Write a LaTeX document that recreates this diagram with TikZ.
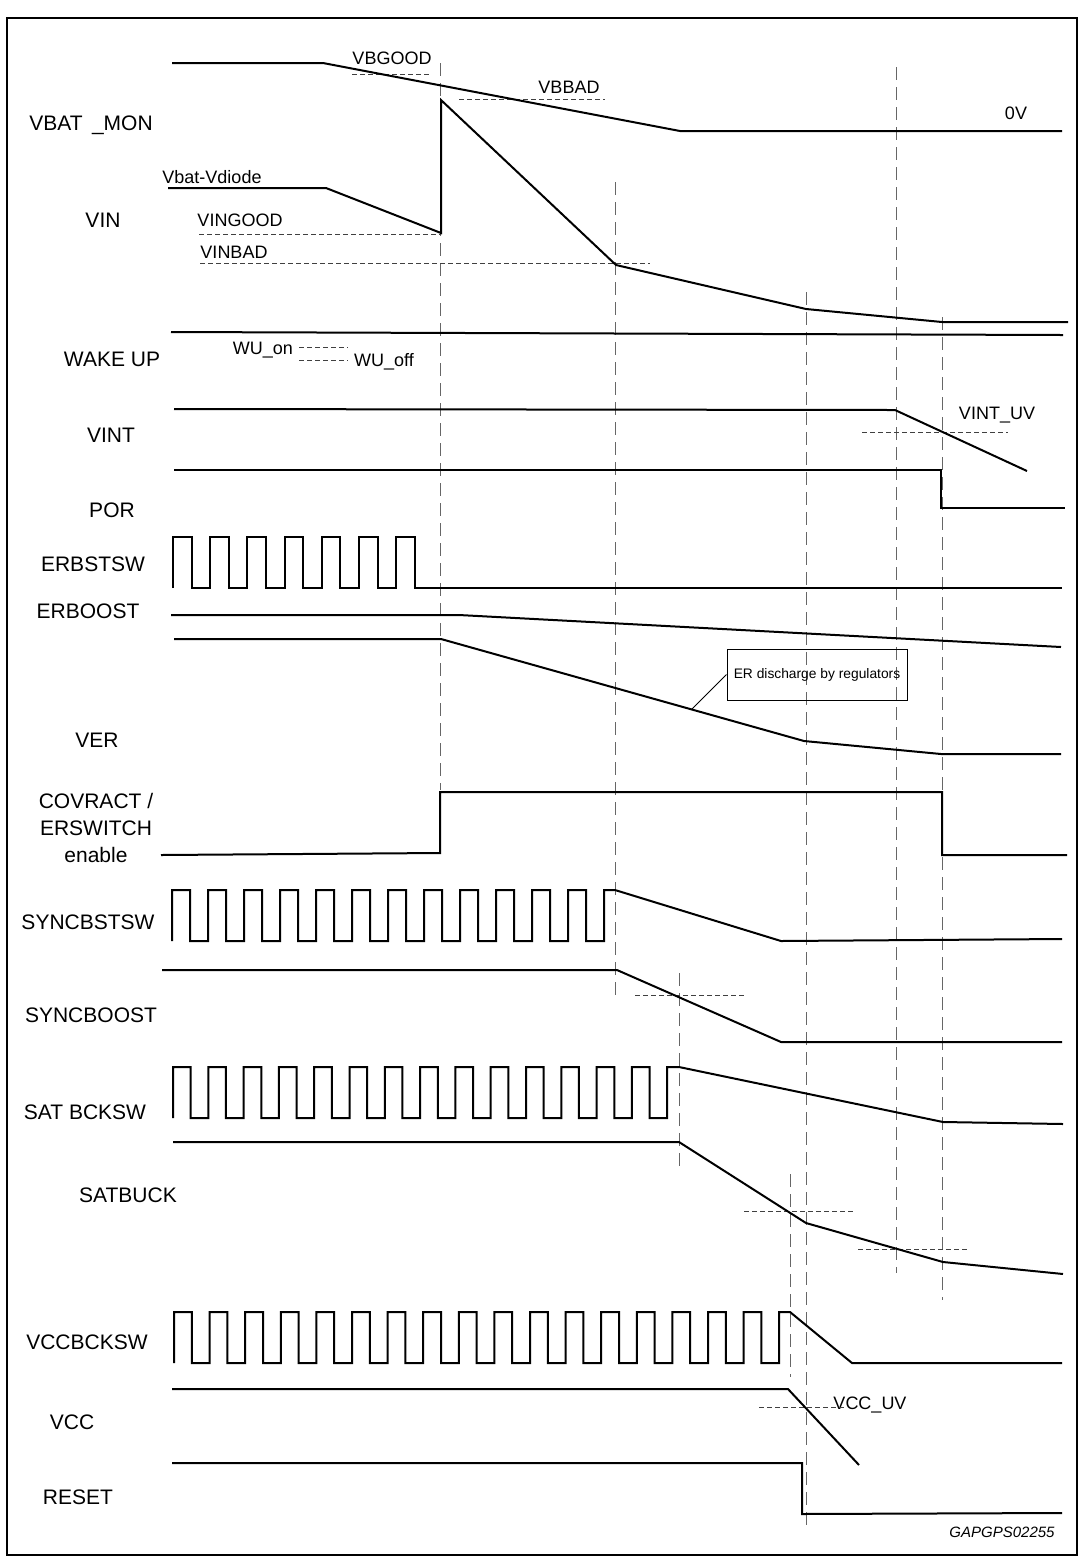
\documentclass[tikz,border=0pt]{standalone}
\usepackage{fontspec}
\setmainfont{Liberation Sans}
\usepackage{tikz}
\usetikzlibrary{arrows}

\begin{document}
\begin{tikzpicture}[x=0.5pt,y=-0.5pt]

	\tikzstyle signal lines=[line width=1pt, line join=miter];
	\tikzstyle time lines=[black!60, line width=0.5pt, dash pattern=on 6.5pt off 3.5pt];
	\tikzstyle level lines=[black!75, line width=0.45pt, dash pattern=on 2.5pt off 1.5pt];
	\tikzstyle signal names=[font=\fontsize{10.5}{13.5}\selectfont, align=center, inner sep=0pt];
	\tikzstyle level names=[font=\fontsize{9}{11}\selectfont, inner sep=0pt];

	\useasboundingbox (0,0) rectangle (1082,1560);
	\draw[line width=0.7pt] (7,18) rectangle (1077,1555);

	\foreach \n/\x/\y/\t in {svbat/91/125/VBAT\hspace{0.45em}\_MON, svin/103/220/VIN, swake/112/359/WAKE UP, svint/111/435/VINT, spor/112/510/POR,
		serbstsw/93/564/ERBSTSW, serboost/88/611/ERBOOST, sver/97/740/VER, ssyncbstsw/88/922/SYNCBSTSW, ssyncboost/91/1015/SYNCBOOST,
		ssatbcksw/85/1112/SAT BCKSW, ssatbuck/128/1195/SATBUCK, svccbcksw/87/1342/VCCBCKSW, svcc/72/1422/VCC, sreset/78/1497/RESET}
		\node[signal names] (\n) at (\x,\y) {\t};
	\node[signal names] (scovract) at (96,828) {COVRACT /\\ERSWITCH\\enable};

	\foreach \n/\x/\y/\t in {lvbgood/392/58/VBGOOD, lvbbad/569/87/VBBAD, lzero/1016/113/0V, lvdiode/212/177/Vbat-Vdiode,
		lvingood/240/220/VINGOOD, lvinbad/234/252/VINBAD, lwuon/263/350/WU\_on, lwuoff/384/362/WU\_off,
		lvintuv/997/415/VINT\_UV, lvccuv/870/1405/VCC\_UV}
		\node[level names] (\n) at (\x,\y) {\t};

	\foreach \x/\ya/\yb in {440/63/790, 615/182/997, 679/973/1166, 790/1174/1377, 806/292/1528, 896/67/1273, 942/317/1300}
		\draw[time lines] (\x,\ya) -- (\x,\yb);

	\foreach \xa/\xb/\y in {352/431/74, 459/605/99, 199/441/234, 200/650/263, 299/348/347, 299/348/360,
		862/1008/432, 635/745/995, 744/854/1211, 858/968/1249, 759/845/1407}
		\draw[level lines] (\xa,\y) -- (\xb,\y);

	% VBAT_MON, VIN, WAKE UP
	\draw[signal lines] (172,63) -- (323,63) -- (680,131) -- (1062,131);
	\draw[signal lines] (168,188) -- (326,188) -- (441,233) -- (441,100) -- (616,265) -- (806,309) -- (942,322) -- (1068,322);
	\draw[signal lines] (171,332) -- (1063,335);

	% VINT, POR
	\draw[signal lines] (174,409) -- (895,410) -- (1027,471);
	\draw[signal lines] (174,470) -- (941,470) -- (941,508) -- (1065,508);

	% ER boost
	\draw[signal lines] (173,588) \foreach \i in {0,...,6} {-- ++(0,-51) -- ++(18.6,0) -- ++(0,51) -- ++(18.6,0)} -- (1062,588);
	\draw[signal lines] (171,615) -- (459,615) -- (1061,647);
	\draw[signal lines] (174,639) -- (441,639) -- (804,741) -- (941,754) -- (1061,754);
	\coordinate (ver dis) at (692,709);
	\draw[signal lines] (161,855) -- (440,853) -- (440,792) -- (942,792) -- (942,855) -- (1067,855);

	\node[draw, line width=0.5pt, minimum width=90pt, minimum height=25.5pt, inner sep=1pt,
		font=\fontsize{6.9}{8}\selectfont] (erdis) at (817,674.5) {ER discharge by regulators};
	\draw[line width=0.4pt] (erdis.west) -- (ver dis);

	% sync boost
	\draw[signal lines] (172,941) \foreach \i in {0,...,11} {-- ++(0,-51) -- ++(18,0) -- ++(0,51) -- ++(18,0)}
		-- ++(0,-51) -- (615,890) -- (781,941) -- (1062,939);
	\draw[signal lines] (162,970) -- (617,970) -- (781,1042) -- (1062,1042);

	% sat buck
	\draw[signal lines] (173,1118) \foreach \i in {0,...,13} {-- ++(0,-51) -- ++(17.65,0) -- ++(0,51) -- ++(17.65,0)}
		-- ++(0,-51) -- (679,1067) -- (943,1122) -- (1063,1124);
	\draw[signal lines] (173,1142) -- (679,1142) -- (806,1223) -- (943,1262) -- (1063,1274);

	% vcc buck
	\draw[signal lines] (174,1363) \foreach \i in {0,...,16} {-- ++(0,-51) -- ++(17.8,0) -- ++(0,51) -- ++(17.8,0)}
		-- ++(0,-51) -- (790,1312) -- (852,1363) -- (1062,1363);
	\draw[signal lines] (172,1389) -- (788,1389) -- (859,1465);
	\draw[signal lines] (172,1463) -- (802,1463) -- (802,1514) -- (1062,1513);

	\node[inner sep=0pt, font=\fontsize{7.5}{9}\selectfont\itshape] (gapcode) at (1002,1532) {GAPGPS02255};

\end{tikzpicture}
\end{document}
